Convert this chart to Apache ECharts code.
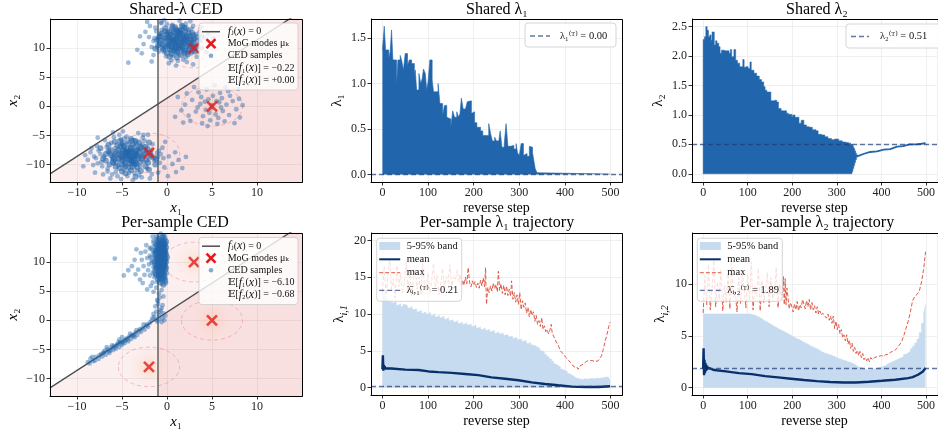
<!DOCTYPE html>
<html>
<head>
<meta charset="utf-8">
<script src="https://cdn.jsdelivr.net/npm/echarts@6/dist/echarts.min.js"></script>
<style>
  html, body { margin: 0; padding: 0; background: #fff; }
  #chart { width: 938px; height: 431px; }
</style>
</head>
<body>
<div id="chart"></div>
<script>
const FONT = "'Liberation Serif', 'DejaVu Serif', serif";

// ---------- 2-D panels (Shared-λ CED / Per-sample CED) ----------
const modes = [[3, 10], [5, 0], [-2, -8]];
const modeRadius = 3.4;
const boundaryX = -1;        // f_1(x) = 0  (vertical)
const boundarySlope = 1.0;   // f_2(x) = 0  : x2 = slope * x1 + b
const boundaryB = 1.4;

const sharedLow = [
  [-4.3,-8.2],[-3.8,-7.6],[-4.9,-8.8],[-3.5,-9.1],[-5.2,-7.9],[-4.1,-7.0],[-2.9,-8.4],[-5.6,-8.6],[-4.6,-9.6],[-3.2,-7.3],
  [-2.6,-9.5],[-5.8,-7.2],[-4.0,-10.0],[-3.4,-6.4],[-6.1,-9.2],[-2.3,-7.8],[-5.0,-6.6],[-4.7,-7.5],[-3.7,-8.7],[-3.0,-10.3],
  [-6.4,-8.1],[-2.0,-8.9],[-5.4,-10.1],[-4.4,-6.1],[-3.9,-9.5],[-6.7,-7.0],[-1.7,-7.5],[-5.9,-9.9],[-2.7,-6.6],[-4.8,-10.8],
  [-3.3,-11.0],[-7.0,-8.6],[-1.4,-9.3],[-6.2,-6.3],[-5.1,-5.7],[-3.6,-5.8],[-2.2,-10.7],[-7.3,-9.6],[-1.1,-8.0],[-6.6,-10.7],
  [-4.2,-11.4],[-2.5,-5.9],[-7.6,-7.6],[-0.8,-9.7],[-5.7,-11.3],[-3.1,-11.8],[-7.9,-8.9],[-1.6,-6.5],[-6.9,-5.8],[-0.5,-7.1],
  [-4.5,-5.2],[-5.5,-12.0],[-8.2,-10.1],[-2.8,-12.2],[-0.3,-10.5],[-8.5,-7.9],[-1.0,-11.4],[-7.1,-11.7],[-5.3,-4.9],[-3.2,-4.6],
  [0.2,-8.6],[-8.8,-9.2],[-1.9,-12.4],[0.6,-9.9],[-6.3,-12.4],[-3.8,-12.7],[0.9,-7.9],[-9.1,-8.4],[-7.7,-5.4],[1.3,-9.2],
  [1.7,-10.6],[-0.2,-6.1],[-4.9,-4.3],[2.1,-8.7],[-8.0,-11.4],[0.1,-12.0],[1.0,-11.3],[-6.0,-4.5],[-2.1,-4.9],[-9.3,-10.3],
  [-7.4,-8.2],[-3.6,-11.5],[-1.0,-8.7],[-5.9,-5.3],[-7.2,-10.3],[-4.4,-12.0],[-0.7,-8.2],[-2.6,-4.9],[-7.8,-6.8],[-6.1,-11.7],
  [-0.9,-7.6],[-6.6,-11.2],[-1.7,-11.7],[-7.7,-9.8],[-4.7,-5.5],[-0.4,-8.9],[-8.1,-8.6],[-2.7,-5.4],[-5.1,-12.5],[-8.4,-7.2]
];
const sharedLowCore = [
  [-4.0,-8.6],[-3.6,-8.1],[-4.6,-8.0],[-5.0,-9.3],[-3.3,-8.6],[-4.4,-7.4],[-5.3,-8.4],[-3.9,-9.0],[-4.8,-7.1],[-3.1,-7.9],
  [-5.6,-9.5],[-4.2,-9.2],[-3.6,-7.0],[-2.8,-9.0],[-5.4,-7.5],[-4.5,-8.5],[-3.4,-9.8],[-4.1,-7.7],[-5.8,-8.2],[-2.5,-8.2],
  [-4.7,-9.9],[-3.0,-6.9],[-5.2,-6.9],[-4.3,-10.5],[-2.4,-7.0],[-6.0,-8.7],[-3.8,-10.4],[-4.9,-6.3],[-2.1,-9.7],[-6.3,-7.5],
  [-3.5,-6.0],[-5.7,-10.4],[-1.8,-8.4],[-4.0,-5.6],[-6.8,-9.3],[-2.9,-11.1],[-1.3,-10.0],[-5.0,-11.2],[-6.5,-6.6],[-2.0,-6.2],
  [-4.2,-8.4],[-3.9,-7.9],[-4.7,-8.3],[-3.4,-8.3],[-4.4,-9.0],[-5.1,-8.6],[-3.7,-9.4],[-4.9,-7.6],[-3.2,-8.9],[-4.0,-7.3],
  [-5.4,-9.0],[-2.7,-8.6],[-4.5,-7.8],[-3.5,-7.7],[-5.7,-7.8],[-4.1,-9.8],[-3.0,-9.6],[-5.0,-10.0],[-2.6,-7.6],[-4.8,-6.8],
  [-3.8,-6.6],[-5.9,-9.1],[-2.3,-9.2],[-6.2,-8.4],[-3.3,-10.5],[-4.6,-10.3],[-2.9,-7.1],[-5.5,-6.7],[-4.3,-6.5],[-6.5,-7.7],
  [-1.9,-8.0],[-3.6,-10.0],[-5.3,-10.6],[-2.2,-7.3],[-6.0,-9.6],[-4.0,-11.0],[-1.5,-8.8],[-6.8,-8.2],[-3.1,-6.2],[-5.2,-5.9],
  [-4.6,-11.5],[-2.4,-10.3],[-6.4,-10.0],[-1.2,-9.1],[-7.1,-9.0],[-3.9,-5.9],[-2.0,-10.9],[-5.8,-6.1],[-7.4,-7.2],[-3.5,-12.1],
  [-4.4,-8.0],[-3.6,-8.5],[-4.9,-9.1],[-3.9,-8.8],[-4.2,-7.7],[-5.0,-8.1],[-3.3,-7.6],[-4.6,-8.9],[-4.0,-9.4],[-3.6,-9.7]
];
const sharedUp = [
  [2.7,13.3],[-1.4,11.7],[3.5,11.4],[0.6,14.0],[-0.9,9.4],[2.1,14.2],[3.6,12.8],[-0.1,8.6],[1.8,8.0],[3.3,8.5],
  [-1.7,10.2],[0.5,7.9],[2.6,14.6],[-0.6,14.3],[3.9,10.0],[-2.0,11.9],[1.4,14.7],[-1.5,8.8],[0.2,7.4],[-1.2,12.9],
  [-2.4,12.8],[4.1,11.8],[2.2,7.6],[-2.6,10.7],[3.8,13.6],[-0.3,14.8],[-1.9,13.8],[4.4,9.3],[-2.8,9.1],[1.0,7.0],
  [-4.3,7.5],[-3.3,9.7],[-1.7,7.7],[-0.7,14.4],[-3.0,12.0],[4.6,12.5],[4.8,10.6],[5.2,11.7],[2.9,7.2],[-2.2,14.5],
  [1.6,14.0],[-0.6,13.1],[2.1,8.4],[3.7,11.2],[-1.5,11.2],[0.0,14.1],[2.9,13.8],[1.2,7.8],[-1.3,13.5],[3.9,12.1],
  [-1.1,10.1],[3.4,10.6],[0.7,8.7],[2.7,9.1],[-0.8,12.4],[0.4,13.3],[3.2,12.4],[1.3,8.9],[2.4,13.1],[-0.3,9.3]
];
const sharedUpCore = [
  [1.0,11.0],[0.4,11.6],[1.6,10.4],[0.1,10.3],[2.0,11.8],[1.3,12.3],[-0.4,11.2],[2.5,10.7],[0.8,9.6],[1.9,9.2],
  [-0.7,12.1],[2.9,12.2],[0.3,12.8],[1.5,13.1],[-1.0,10.5],[3.2,10.2],[0.0,9.2],[2.3,8.9],[-0.2,13.4],[1.1,8.4],
  [1.7,11.5],[0.7,10.8],[1.4,9.9],[0.2,11.9],[2.4,12.6],[-0.5,10.0],[1.2,12.9],[2.8,9.6],[0.9,13.6],[3.0,11.0],
  [0.9,11.4],[1.5,10.9],[0.2,10.8],[1.8,12.0],[0.6,10.1],[2.2,10.3],[1.2,11.9],[-0.3,11.6],[2.6,11.5],[0.4,12.3],
  [1.7,9.7],[-0.8,10.8],[2.4,9.8],[0.0,12.4],[1.3,10.2],[2.0,12.7],[-0.4,9.7],[3.0,11.7],[0.8,12.6],[1.6,8.8],
  [-1.1,11.4],[2.8,10.5],[0.5,9.0],[1.0,13.2],[-0.2,12.9],[3.4,11.9],[0.3,9.8],[2.1,13.4],[-0.6,12.5],[1.9,10.7],
  [0.7,11.2],[1.1,9.3],[2.5,12.1],[-0.9,11.9],[3.1,9.4],[1.4,12.5],[0.1,10.6],[2.2,11.2],[-1.3,9.9],[1.7,13.8],
  [1.2,11.1],[0.6,11.4],[1.5,11.7],[0.9,10.6],[1.9,10.9],[0.3,11.1],[1.1,12.1],[2.3,11.6],[0.5,10.4],[1.7,10.1],
  [-0.1,11.8],[2.6,10.9],[1.0,9.9],[0.1,12.6],[2.0,9.6],[1.4,13.0],[-0.5,10.6],[2.9,11.4],[0.8,12.9],[1.8,12.4],
  [1.0,11.6],[1.6,11.2],[0.7,12.0],[2.2,12.0],[0.5,9.6],[1.3,10.5],[2.0,11.3],[0.2,11.5],[1.5,12.6],[0.9,10.2],
  [2.5,10.3],[1.9,13.5],[-0.2,10.2],[3.0,10.0],[0.6,13.7],[-0.9,11.5],[2.3,9.3],[1.1,9.4],[2.8,12.6],[0.3,8.5]
];
const sharedRight = [
  [5.0,0.2],[4.3,-0.6],[5.8,0.7],[4.6,1.2],[6.2,-0.8],[3.7,0.4],[5.4,-1.4],[4.0,-1.7],[6.6,0.3],[5.1,1.8],
  [3.2,-0.9],[6.9,-1.5],[4.8,-2.4],[5.9,2.3],[2.8,1.1],[7.3,0.9],[3.5,2.4],[6.4,-2.6],[2.4,-1.6],[7.7,-0.5],
  [4.4,2.9],[5.6,-3.0],[2.0,0.3],[8.1,-1.9],[3.9,-2.9],[6.8,2.6],[1.6,-0.7],[8.4,0.2],[3.0,3.3],[5.3,3.6],
  [1.2,1.6],[7.5,-2.9],[2.6,-2.5],[4.9,-0.3],[5.5,0.9],[4.2,0.8],[6.0,-0.2],[3.4,-0.2],[6.1,1.4],[4.7,-1.1],
  [2.2,2.2],[7.0,1.8],[5.7,-2.0],[3.8,1.6],[0.9,-1.8],[6.5,3.3],[4.5,-3.4],[8.0,1.3],[1.8,-2.8],[7.9,3.0]
];
const perColumn = [
  [-1.5,11.6],[-1.4,12.7],[-1.7,10.3],[-1.6,8.2],[-1.9,11.1],[-2.0,9.6],[-1.8,12.5],[-1.4,7.4],[-2.2,10.7],[-1.5,13.3],
  [-2.4,11.8],[-0.7,14.9],[-2.1,8.6],[-1.6,14.4],[-1.2,13.9],[-1.0,14.2],[-0.4,14.6],[-0.5,6.3],[-1.1,6.6],[-0.8,6.9],
  [-2.6,9.3],[-2.3,12.9],[-1.9,7.7],[-2.8,10.4],[-1.6,6.5],[-2.5,7.8],[-1.2,5.6],[-0.6,5.2],[-1.8,5.9],[-0.9,4.6],
  [-5.8,10.6],[-4.8,7.7],[-3.9,9.3],[-3.5,7.9],[-3.0,7.0],[-3.2,8.7],[-3.6,10.4],[-2.9,11.6],[-4.3,8.6],[-2.7,6.4],
  [-3.4,12.2],[-2.2,5.3],[-1.5,4.9],[-0.4,4.1],[-1.1,3.5],[-1.4,11.0],[-1.5,9.1],[-1.6,12.0],[-1.3,13.0],[-1.7,9.9],
  [-1.4,8.6],[-1.8,10.8],[-1.5,13.7],[-1.2,14.4],[-1.9,12.3],[-0.3,14.6],[-0.2,14.1],[-0.1,6.4],[-0.2,7.4],[0.0,8.1]
];
const perColumnCore = [
  [-0.8,10.0],[-0.5,11.2],[-1.0,12.1],[-0.3,9.2],[-0.7,8.4],[-1.2,10.8],[-0.4,12.9],[-0.9,13.4],[-0.6,7.6],[-1.3,9.5],
  [-0.2,10.6],[-0.5,13.8],[-1.1,8.9],[-0.3,11.9],[-0.6,9.8],[-0.4,8.0],[-0.2,13.1],[-0.7,12.4],[-0.3,7.2],[-0.9,11.6],
  [-0.6,10.5],[-0.2,8.7],[-0.8,9.2],[-0.3,12.4],[-1.3,11.3],[-0.5,9.5],[-0.9,7.9],[-0.1,10.0],[-1.0,10.4],[-0.6,11.7],
  [-1.2,9.0],[-0.4,10.9],[-0.8,12.8],[-1.4,10.0],[-0.3,9.6],[-0.9,8.0],[-0.6,13.5],[-1.1,11.9],[-0.5,8.9],[-0.7,11.0],
  [-1.3,8.1],[-0.2,12.0],[-0.8,10.7],[-1.0,9.8],[-0.4,11.5],[-0.6,12.2],[-1.1,13.0],[-0.3,10.3],[-0.9,9.4],[-0.5,10.1],
  [-0.7,10.2],[-0.4,10.5],[-0.9,10.9],[-0.6,11.4],[-1.0,11.0],[-0.3,11.1],[-0.8,11.8],[-0.5,12.0],[-1.1,12.4],[-0.4,12.6],
  [-0.7,13.0],[-0.9,12.2],[-0.2,11.6],[-0.6,13.2],[-1.0,13.6],[-0.4,13.4],[-0.8,14.0],[-0.5,14.3],[-0.3,13.8],[-1.2,11.7],
  [-0.6,9.2],[-0.9,9.6],[-0.3,9.9],[-0.7,9.0],[-1.1,9.9],[-0.5,8.6],[-0.8,8.7],[-0.2,9.4],[-1.0,8.4],[-0.4,8.3],
  [-0.6,7.9],[-0.9,7.5],[-0.3,7.8],[-0.7,7.2],[-1.2,7.8],[-0.5,7.0],[-0.8,6.5],[-0.2,6.8],[-1.0,7.1],[-0.4,6.1],
  [-0.7,10.8],[-0.5,11.6],[-0.8,10.4],[-0.4,9.7],[-0.6,12.6],[-0.9,11.4],[-0.3,12.9],[-1.2,10.4],[-0.5,9.0],[-0.8,13.3],
  [-1.3,12.0],[-0.2,10.3],[-0.7,11.6],[-1.0,10.6],[-0.4,12.2],[-0.6,10.0],[-0.9,13.0],[-0.3,11.4],[-1.1,9.3],[-0.5,13.0],
  [-0.1,12.5],[-0.1,9.0],[-0.1,11.3],[0.0,10.8],[-0.1,13.5],[-0.6,10.7],[-0.8,12.0],[-0.5,11.0],[-0.7,12.3],[-0.4,10.0]
];
const perMiddle = [
  [-0.8,3.9],[-1.0,2.8],[-0.6,2.1],[-1.2,1.5],[-0.9,0.9],[-0.5,0.4],[-1.4,0.6],[-1.7,0.0],[-1.1,-0.2],[-0.4,1.2],
  [-0.7,1.7],[-1.3,2.4],[-0.3,0.0],[-1.9,-0.4],[-1.5,1.1],[-0.9,0.2],[-0.6,-0.3],[-2.2,-0.7],[-1.0,3.3],[-0.5,2.6],
  [-1.6,0.4],[-0.8,1.4],[-0.2,0.8],[-1.2,0.1]
];
const perChain = [
  [-8.8,-7.2],[-8.5,-6.6],[-8.2,-7.0],[-7.9,-6.3],[-7.6,-6.6],[-7.3,-5.8],[-7.0,-5.5],[-7.2,-6.2],[-6.8,-5.9],[-6.6,-5.0],
  [-6.4,-5.6],[-6.2,-4.7],[-6.0,-5.1],[-5.9,-4.4],[-5.7,-4.9],[-5.5,-4.1],[-5.3,-4.6],[-5.2,-3.7],[-5.0,-4.2],[-4.8,-3.5],
  [-4.7,-3.9],[-4.5,-3.1],[-4.3,-3.6],[-4.2,-2.8],[-4.0,-3.2],[-3.8,-2.5],[-3.6,-2.9],[-3.5,-2.1],[-3.3,-2.5],[-3.1,-1.8],
  [-2.9,-2.0],[-2.7,-1.3],[-2.5,-1.6],[-2.3,-0.9],[-2.1,-1.1],[-6.5,-5.3],[-5.8,-4.6],[-5.1,-3.9],[-4.4,-3.3],[-3.7,-2.7],
  [-7.5,-6.0],[-6.9,-5.2],[-6.1,-4.3],[-5.4,-3.8],[-4.6,-3.4],[-3.9,-2.6],[-8.0,-6.9],[-8.6,-7.4],[-5.6,-4.3],[-4.9,-3.8],
  [-6.3,-5.2],[-7.1,-5.6],[-5.0,-2.9],[-4.1,-2.3],[-6.7,-4.6],[-3.0,-1.5],[-8.3,-6.3],[-5.3,-3.3],[-2.6,-0.7],[-3.4,-1.7]
];

// ---------- Shared λ1 ----------
const sl1Steps = [0,4,7,11,14,17,20,23,27,31,34,39,42,46,50,55,59,64,70,72,75,80,84,87,90,94,97,100,104,109,
  112,117,122,126,132,136,141,145,150,154,158,163,167,170,173,177,182,186,190,195,199,202,207,211,215,220,224,228,233,237,
  241,246,250,255,258,262,267,271,275,280,284,288,293,296,300,304,309,313,317,322,326,329,332,335,339,343,499];
const sl1Vals = [1.37,1.63,1.37,1.37,1.28,1.35,1.59,1.26,1.26,0.98,1.26,1.31,1.26,1.15,1.33,1.20,1.26,1.22,1.09,1.15,
  0.93,1.11,1.00,1.05,1.16,1.11,0.93,1.02,1.26,1.04,0.91,0.91,1.00,0.78,0.65,0.76,0.63,0.61,0.52,0.70,
  0.63,0.69,0.63,0.67,0.84,0.72,0.72,0.80,0.81,0.67,0.69,0.57,0.52,0.52,0.48,0.43,0.43,0.43,0.56,0.45,
  0.37,0.41,0.37,0.39,0.48,0.30,0.34,0.56,0.31,0.31,0.32,0.28,0.34,0.24,0.21,0.34,0.21,0.23,0.20,0.31,
  0.30,0.24,0.15,0.06,0.02,0.005,0.005];
const sl1Final = 0.00;

// ---------- Shared λ2 ----------
const sl2Steps = [0,3,6,9,12,15,18,20,25,28,31,35,38,41,48,55,58,61,64,69,73,77,82,85,89,92,96,101,105,108,
  114,120,126,131,136,139,143,147,152,155,161,165,169,175,181,187,191,196,199,201,206,210,215,220,226,232,238,245,253,258,
  266,273,280,288,295,304,312,320,326,331,334,336,338,340,342,344,347];
const sl2Hi = [2.28,2.33,2.50,2.44,2.33,2.36,2.27,2.41,2.19,2.26,2.22,2.16,2.05,2.10,2.09,2.09,2.05,2.11,1.99,2.11,
  1.93,1.88,1.82,1.82,1.94,1.81,1.82,1.79,1.90,1.76,1.71,1.66,1.60,1.56,1.48,1.42,1.39,1.39,1.24,1.24,
  1.25,1.22,1.11,1.07,1.07,1.03,1.01,1.01,0.97,1.00,0.96,0.96,0.86,0.91,0.83,0.80,0.79,0.75,0.73,0.67,
  0.66,0.63,0.60,0.58,0.59,0.56,0.54,0.53,0.52,0.50,0.49,0.46,0.43,0.39,0.35,0.32,0.32];
const sl2Lo = [0,0,0,0,0,0,0,0,0,0,0,0,0,0,0,0,0,0,0,0,0,0,0,0,0,0,0,0,0,0,
  0,0,0,0,0,0,0,0,0,0,0,0,0,0,0,0,0,0,0,0,0,0,0,0,0,0,0,0,0,0,
  0,0,0,0,0,0,0,0,0,0,0.04,0.09,0.14,0.19,0.24,0.29,0.31];
const sl2TailSteps = [344,347,361,375,390,405,420,435,449,463,478,490,499];
const sl2TailVals = [0.29,0.32,0.34,0.37,0.38,0.41,0.42,0.46,0.47,0.50,0.50,0.51,0.52];
const sl2Final = 0.51;

// ---------- Per-sample trajectories ----------
const bandSteps = [0,5,10,15,20,25,30,35,40,45,50,55,60,65,70,75,80,85,90,95,100,105,110,115,120,125,130,135,140,145,
  150,155,160,165,170,175,180,185,190,195,200,205,210,215,220,225,230,235,240,245,250,255,260,265,270,275,280,285,290,295,
  300,305,310,315,320,325,330,335,340,345,350,355,360,365,370,375,380,385,390,395,400,405,410,415,420,425,430,435,440,445,
  450,455,460,465,470,475,480,485,490,495,499];
const ps1Band = [13.3,12.4,11.9,11.6,11.5,11.7,11.2,11.4,11.0,11.3,11.1,10.8,11.0,10.6,10.7,10.3,10.5,10.1,10.3,10.0,
  10.2,9.8,10.0,9.6,9.8,9.5,9.7,9.3,9.5,9.1,9.2,8.9,9.1,8.7,8.9,8.6,8.8,8.5,8.6,8.3,
  8.5,8.1,8.2,7.9,8.1,7.8,7.9,7.6,7.8,7.4,7.6,7.3,7.4,7.1,7.2,6.9,7.0,6.7,6.8,6.5,
  6.6,6.3,6.4,6.0,6.1,5.8,5.7,5.5,5.3,5.0,4.8,4.5,4.2,3.9,3.6,3.2,3.0,2.8,2.5,2.3,
  2.2,1.9,1.7,1.5,1.3,1.2,1.15,1.1,1.2,1.15,1.2,1.25,1.2,1.3,1.25,1.3,1.35,1.45,1.4,1.3,0.9];
const ps2Band = [7.1,7.1,7.1,7.1,7.1,7.1,7.1,7.1,7.1,7.1,7.1,7.1,7.1,7.1,7.1,7.1,7.1,7.1,7.1,7.1,7.1,
  7.05,7.0,6.9,6.8,6.7,6.55,6.4,6.3,6.15,6.05,5.9,5.8,5.65,5.55,5.45,5.35,5.2,5.1,4.95,4.85,
  4.75,4.65,4.55,4.4,4.3,4.2,4.05,3.95,3.85,3.75,3.65,3.5,3.4,3.3,3.25,3.15,3.1,3.0,2.9,2.8,
  2.75,2.65,2.6,2.5,2.45,2.35,2.25,2.1,2.0,1.95,1.85,1.75,1.7,1.7,1.75,1.8,1.85,1.95,2.0,2.05,
  2.15,2.3,2.4,2.5,2.6,2.7,2.8,2.9,3.0,3.2,3.35,3.5,3.75,4.0,4.3,4.7,5.3,6.2,7.2,8.0];

const ps1MeanSteps = [0,1,2,3,4,5,6,8,12,20,50,79,101,123,152,181,210,239,269,298,327,356,385,415,444,473,499];
const ps1Mean = [2.5,4.4,2.3,3.1,2.5,2.9,2.6,2.8,2.6,2.6,2.45,2.4,2.2,2.1,2.0,1.86,1.7,1.4,1.2,1.0,0.72,0.5,0.32,0.14,0.09,0.09,0.18];
const ps2MeanSteps = [0,1,2,3,4,5,6,7,8,9,10,12,14,16,22,30,51,80,109,139,168,197,226,255,285,314,343,372,401,431,460,470,482,488,493,497,499];
const ps2Mean = [1.8,3.8,1.2,2.7,1.4,2.4,1.6,2.2,1.7,2.1,1.9,2.0,1.8,1.85,1.73,1.68,1.57,1.41,1.31,1.12,1.0,0.87,0.74,0.64,0.55,0.51,0.51,0.58,0.67,0.77,0.93,1.02,1.25,1.42,1.57,1.75,1.9];

const ps1MaxSteps = [0,4,8,12,16,20,24,28,32,36,40,44,48,52,56,60,64,68,72,76,80,84,88,92,96,100,104,108,112,116,
  120,124,128,132,136,140,144,148,152,156,160,164,168,
  170,173,176,179,182,185,188,191,194,197,200,203,206,209,212,215,218,221,224,226,228,231,234,237,240,243,246,249,252,254,
  257,260,263,266,269,272,275,278,281,283,286,289,292,295,298,301,304,307,310,313,316,319,322,325,328,331,334,337,340,343,
  346,349,352,355,358,361,364,367,370,372,375,378,381,384,387,390,393,396,399,402,405,408,411,414,417,420,423,426,429,432,
  436,440,444,448,452,456,460,464,468,472,476,480,484,488,492,496,499];
const ps1Max = [13.0,16.4,12.6,15.2,17.3,13.4,14.8,12.2,16.6,13.7,15.5,12.8,14.2,17.0,13.1,15.8,12.5,14.6,16.1,13.3,
  15.0,12.7,16.8,14.0,13.2,15.6,12.9,14.5,16.9,13.6,15.3,12.6,14.1,16.2,13.5,15.1,14.3,16.7,13.8,15.0,14.6,16.0,14.4,
  15.4,13.8,14.6,13.9,15.0,14.1,16.3,14.3,13.7,14.5,13.9,14.4,13.6,14.2,13.5,14.6,13.8,14.9,13.7,16.3,11.3,13.6,12.9,13.8,13.1,
  14.2,13.4,14.0,13.0,15.8,13.2,14.1,12.8,13.9,12.6,13.8,12.5,13.4,12.4,14.5,12.0,12.9,11.6,12.6,11.3,12.9,10.6,11.8,10.9,
  11.5,10.1,10.9,9.6,10.6,9.8,10.3,9.0,9.8,8.6,9.1,8.3,9.5,7.9,8.4,7.6,7.9,7.3,7.8,8.6,7.4,7.0,6.8,6.2,5.9,5.5,
  5.0,4.8,4.6,4.4,4.1,3.9,3.7,3.5,3.3,3.1,2.8,2.6,2.8,2.5,2.9,2.7,3.2,3.3,3.6,3.4,3.7,3.5,3.6,3.4,3.6,3.7,4.3,5.2,6.3,7.2,8.3,8.9];
const ps2MaxSteps = [0,4,8,12,16,20,24,28,32,36,40,44,48,52,56,60,64,68,72,76,80,84,88,92,96,100,104,108,112,116,
  120,124,128,132,136,140,144,148,152,156,160,164,168,
  172,175,178,180,182,184,186,188,190,193,196,199,202,205,208,211,214,217,220,223,226,229,232,235,238,241,244,247,250,253,
  256,259,262,265,268,271,274,277,280,283,286,289,292,295,298,301,304,307,310,313,316,319,322,325,328,331,334,337,340,343,
  346,349,352,355,358,361,364,367,370,373,376,380,384,388,392,396,400,405,410,415,420,425,430,435,440,445,450,455,460,465,
  470,475,480,485,490,495,499];
const ps2Max = [7.2,10.8,8.0,11.9,7.5,9.6,12.3,7.8,10.2,8.5,11.4,7.4,9.9,8.2,11.0,7.6,12.0,8.7,9.3,7.3,
  10.6,8.1,11.2,9.5,7.7,10.9,8.4,12.1,7.5,9.8,8.8,11.5,7.4,10.3,8.2,9.4,11.1,7.8,10.6,8.6,9.0,11.6,7.7,
  10.0,8.5,9.4,10.7,8.0,10.5,8.0,9.6,8.9,7.6,8.2,7.8,7.3,8.1,7.5,8.3,7.4,8.0,7.7,8.5,8.6,7.6,8.4,7.8,8.5,7.5,8.2,7.5,7.9,7.2,
  7.8,7.1,7.4,7.0,7.2,7.0,7.1,6.7,7.1,6.5,6.9,6.2,6.9,5.7,6.4,5.6,6.1,5.2,5.6,4.8,5.1,4.5,5.1,4.2,4.6,3.8,4.3,3.5,3.9,3.3,
  3.6,3.1,3.5,2.9,3.3,2.7,2.9,2.6,2.9,2.5,2.9,2.7,2.9,2.8,3.0,2.9,3.1,3.0,3.2,3.2,3.4,3.5,3.6,3.8,4.1,4.4,5.0,5.7,6.4,7.3,
  8.4,8.8,9.0,9.3,10.2,11.5,13.1];
const ps1Final = 0.21;
const ps2Final = 1.89;

// ---------- colours ----------
const BLUE = '#2166ac';
const SAMPLE = 'rgba(33,102,172,0.55)';
const SAMPLE_CORE = 'rgba(33,102,172,0.7)';
const PINK = 'rgba(226,74,74,0.13)';
const BOUND = '#4d4d4d';
const MODE = '#e41a1c';
const BAND = '#c6dbef';
const MEAN = '#08306b';
const MAX = '#e05a47';
const REF = 'rgba(30,60,120,0.7)';

// ---------- layout ----------
const GRIDS = [
  { left: 50,  top: 19,  width: 252, height: 163 },
  { left: 371, top: 19,  width: 251, height: 163 },
  { left: 692, top: 19,  width: 251, height: 163 },
  { left: 50,  top: 233, width: 252, height: 163 },
  { left: 371, top: 233, width: 251, height: 162 },
  { left: 692, top: 233, width: 251, height: 162 }
];
const X_RANGE = [-13, 15];
const Y_RANGE = [-13, 15];

const minus = v => (v < 0 ? '\u2212' + Math.abs(v) : String(v));
const RICH = {
  i: { fontStyle: 'italic', fontFamily: FONT },
};
const NAME_RICH = {
  i: { fontStyle: 'italic', fontFamily: FONT, fontSize: 15 },
  l: { fontFamily: FONT, fontSize: 15, lineHeight: 20, verticalAlign: 'middle' },
  s: { fontFamily: FONT, fontSize: 10, fontStyle: 'italic', lineHeight: 20, verticalAlign: 'bottom' }
};

function xAxisFor(gi, min, max, name, gap, fmt) {
  return {
    type: 'value', gridIndex: gi, min, max, splitNumber: 5,
    name, nameLocation: 'middle', nameGap: gap,
    nameTextStyle: { fontFamily: FONT, fontSize: 14, color: '#000', rich: NAME_RICH },
    axisLine: { show: true, onZero: false, lineStyle: { color: '#000', width: 1 } },
    axisTick: { show: true, length: 3.5, lineStyle: { color: '#000', width: 0.8 } },
    axisLabel: { fontFamily: FONT, fontSize: 12, color: '#222', margin: 5, showMinLabel: false, showMaxLabel: false, formatter: fmt },
    splitLine: { show: true, lineStyle: { color: '#ebebeb', width: 0.8 } }
  };
}
function yAxisFor(gi, min, max, split, name, gap, fmt) {
  return {
    type: 'value', gridIndex: gi, min, max, splitNumber: split,
    name, nameLocation: 'middle', nameGap: gap, nameRotate: 90,
    nameTextStyle: { fontFamily: FONT, fontSize: 15, color: '#000', rich: NAME_RICH },
    axisLine: { show: true, onZero: false, lineStyle: { color: '#000', width: 1 } },
    axisTick: { show: true, length: 3.5, lineStyle: { color: '#000', width: 0.8 } },
    axisLabel: { fontFamily: FONT, fontSize: 12, color: '#222', margin: 5, showMinLabel: false, showMaxLabel: false, formatter: fmt },
    splitLine: { show: true, lineStyle: { color: '#ebebeb', width: 0.8 } }
  };
}

function pairs(xs, ys) { return xs.map((x, i) => [x, ys[i]]); }

// filled step area from 0 (line series, step 'end')
function stepArea(gi, steps, vals, color, z) {
  return {
    type: 'line', xAxisIndex: gi, yAxisIndex: gi, z, silent: true, symbol: 'none', step: 'end',
    data: pairs(steps, vals),
    lineStyle: { color, width: 0.6 },
    areaStyle: { color, opacity: 1, origin: 'auto' }
  };
}
// filled step band between lo and hi, drawn as one polygon
function stepBand(gi, steps, lo, hi, color, z) {
  return {
    type: 'custom', xAxisIndex: gi, yAxisIndex: gi, z, silent: true, clip: true,
    data: [[steps[0], 0]],
    renderItem(params, api) {
      const top = [], bottom = [];
      for (let i = 0; i < steps.length - 1; i++) {
        top.push(api.coord([steps[i], hi[i]]), api.coord([steps[i + 1], hi[i]]));
        bottom.push(api.coord([steps[i], lo[i]]), api.coord([steps[i + 1], lo[i]]));
      }
      return { type: 'polygon', shape: { points: top.concat(bottom.reverse()) }, style: { fill: color, stroke: color, lineWidth: 0.5 } };
    }
  };
}

function cedSeries(gi, clouds, cores) {
  const yAt = x => boundarySlope * x + boundaryB;
  const out = [
    // f_1 > 0 region
    { type: 'line', xAxisIndex: gi, yAxisIndex: gi, silent: true, z: 1, symbol: 'none',
      data: [[boundaryX, Y_RANGE[1]], [X_RANGE[1], Y_RANGE[1]]],
      lineStyle: { width: 0 }, areaStyle: { color: PINK, origin: 'start' } },
    // f_2 > 0 region and its boundary
    { type: 'line', xAxisIndex: gi, yAxisIndex: gi, silent: true, z: 3, symbol: 'none',
      data: [[X_RANGE[0], yAt(X_RANGE[0])], [X_RANGE[1], yAt(X_RANGE[1])]],
      lineStyle: { color: BOUND, width: 1.3 }, areaStyle: { color: PINK, origin: 'start' } },
    { type: 'line', xAxisIndex: gi, yAxisIndex: gi, silent: true, z: 3, symbol: 'none',
      data: [[boundaryX, Y_RANGE[0]], [boundaryX, Y_RANGE[1]]],
      lineStyle: { color: BOUND, width: 1.3 } },
    // Gaussian rings
    { type: 'custom', xAxisIndex: gi, yAxisIndex: gi, silent: true, z: 2,
      data: modes.map(m => [m[0], m[1], modeRadius]),
      renderItem(params, api) {
        const c = api.coord([api.value(0), api.value(1)]);
        const s = api.size([api.value(2), api.value(2)]);
        return {
          type: 'path',
          shape: { pathData: 'M0,50 A50,50 0 1,0 100,50 A50,50 0 1,0 0,50 Z', x: c[0] - s[0], y: c[1] - s[1], width: 2 * s[0], height: 2 * s[1], layout: 'cover' },
          style: {
            fill: { type: 'radial', x: 0.5, y: 0.5, r: 0.5, colorStops: [
              { offset: 0, color: 'rgba(252,205,160,0.4)' }, { offset: 0.6, color: 'rgba(252,205,160,0.1)' }, { offset: 1, color: 'rgba(252,205,160,0)' }] },
            stroke: 'rgba(235,110,110,0.45)', lineWidth: 0.9, lineDash: [4, 3]
          }
        };
      } }
  ];
  clouds.forEach(c => out.push({
    type: 'scatter', xAxisIndex: gi, yAxisIndex: gi, silent: true, z: 4, data: c,
    symbolSize: 4.8, itemStyle: { color: SAMPLE, borderWidth: 0 }
  }));
  cores.forEach(c => out.push({
    type: 'scatter', xAxisIndex: gi, yAxisIndex: gi, silent: true, z: 4, data: c,
    symbolSize: 6, itemStyle: { color: SAMPLE_CORE, borderWidth: 0 }
  }));
  out.push({
    type: 'scatter', xAxisIndex: gi, yAxisIndex: gi, silent: true, z: 5, data: modes,
    symbol: 'path://M0,0 L10,10 M10,0 L0,10', symbolSize: 10,
    itemStyle: { color: 'rgba(0,0,0,0)', borderColor: MODE, borderWidth: 2.6 }
  });
  return out;
}

function refLine(value) {
  return { silent: true, symbol: 'none', label: { show: false },
    lineStyle: { color: REF, type: [5, 3], width: 1.3 }, data: [{ yAxis: value }] };
}

// ---------- legends / titles / frames ----------
function legend(box, rows) {
  const children = [{ type: 'rect', z: 100, shape: { x: 0, y: 0, width: box[2], height: box[3], r: 3 },
    style: { fill: 'rgba(255,255,255,0.8)', stroke: '#cccccc', lineWidth: 0.8 } }];
  rows.forEach(r => {
    const h0 = r.hx[0], h1 = r.hx[1], hc = (h0 + h1) / 2;
    if (r.kind === 'line') {
      children.push({ type: 'line', z: 101, shape: { x1: h0, y1: r.y, x2: h1, y2: r.y },
        style: { stroke: r.color, lineWidth: r.w, lineDash: r.dash || null } });
    } else if (r.kind === 'x') {
      children.push({ type: 'line', z: 101, shape: { x1: hc - 4.5, y1: r.y - 4.5, x2: hc + 4.5, y2: r.y + 4.5 }, style: { stroke: MODE, lineWidth: 2.6 } });
      children.push({ type: 'line', z: 101, shape: { x1: hc - 4.5, y1: r.y + 4.5, x2: hc + 4.5, y2: r.y - 4.5 }, style: { stroke: MODE, lineWidth: 2.6 } });
    } else if (r.kind === 'dot') {
      children.push({ type: 'circle', z: 101, shape: { cx: hc, cy: r.y, r: 2.3 }, style: { fill: SAMPLE } });
    } else if (r.kind === 'patch') {
      children.push({ type: 'rect', z: 101, shape: { x: h0, y: r.y - 4, width: h1 - h0, height: 8 }, style: { fill: BAND } });
    }
    children.push({ type: 'text', z: 101, x: r.tx, y: r.y,
      style: { text: r.text, fontFamily: FONT, fontSize: r.fs || 10.5, fill: '#111', verticalAlign: 'middle', textVerticalAlign: 'middle', rich: RICH } });
  });
  return { type: 'group', x: box[0], y: box[1], z: 100, children };
}

function cedLegend(x, y, e1, e2) {
  const hx = [3, 21];
  return legend([x, y, 99, 67], [
    { kind: 'line', color: BOUND, w: 1.5, hx, y: 8.7, tx: 28.7, fs: 10, text: '{i|f}\u2c7c({i|x}) = 0' },
    { kind: 'x', hx, y: 20.7, tx: 28.7, fs: 10, text: 'MoG modes \u03bc\u2096' },
    { kind: 'dot', hx, y: 32.7, tx: 28.7, fs: 10, text: 'CED samples' },
    { kind: 'none', hx, y: 45.3, tx: 28.7, fs: 10, text: '\ud835\udd3c[{i|f}\u2081({i|x})] = ' + e1 },
    { kind: 'none', hx, y: 57.3, tx: 28.7, fs: 10, text: '\ud835\udd3c[{i|f}\u2082({i|x})] = ' + e2 }
  ]);
}

function trajLegend(x, y, idx, finalVal) {
  const hx = [2.5, 23.5];
  return legend([x, y, 85, 63], [
    { kind: 'patch', hx, y: 7.7, tx: 30, text: '5-95% band' },
    { kind: 'line', color: MEAN, w: 2, hx, y: 21, tx: 30, text: 'mean' },
    { kind: 'line', color: MAX, w: 1, dash: [4, 2], hx, y: 34.4, tx: 30, text: 'max' },
    { kind: 'line', color: REF, w: 1.3, dash: [5, 3], hx, y: 52, tx: 30, text: '\u03bb\u0304\u1d62,' + idx + '\u207d\u1d40\u207e = ' + finalVal.toFixed(2) }
  ]);
}

function title(text, cx, cy) {
  return { type: 'text', z: 100, x: cx, y: cy,
    style: { text, fontFamily: FONT, fontSize: 16, fill: '#000', align: 'center', textAlign: 'center', verticalAlign: 'middle', textVerticalAlign: 'middle' } };
}

const frames = GRIDS.map(g => ({ type: 'rect', z: 90, silent: true,
  shape: { x: g.left + 0.5, y: g.top + 0.5, width: g.width, height: g.height },
  style: { fill: null, stroke: '#000', lineWidth: 1 } }));

const chart = echarts.init(document.getElementById('chart'), null, { renderer: 'canvas' });

chart.setOption({
  animation: false,
  backgroundColor: '#fff',
  grid: GRIDS.map(g => Object.assign({ containLabel: false }, g)),
  xAxis: [
    xAxisFor(0, X_RANGE[0], X_RANGE[1], '{i|x}\u2081', 19, minus),
    xAxisFor(1, -25, 525, 'reverse step', 19),
    xAxisFor(2, -25, 525, 'reverse step', 19),
    xAxisFor(3, X_RANGE[0], X_RANGE[1], '{i|x}\u2081', 19, minus),
    xAxisFor(4, -25, 525, 'reverse step', 19),
    xAxisFor(5, -25, 525, 'reverse step', 19)
  ],
  yAxis: [
    yAxisFor(0, Y_RANGE[0], Y_RANGE[1], 5, '{i|x}\u2082', 29, minus),
    yAxisFor(1, -0.082, 1.71, 4, '\u03bb\u2081', 26, v => v.toFixed(1)),
    yAxisFor(2, -0.14, 2.63, 5, '\u03bb\u2082', 26, v => v.toFixed(1)),
    yAxisFor(3, Y_RANGE[0], Y_RANGE[1], 5, '{i|x}\u2082', 29, minus),
    yAxisFor(4, -1, 21, 5, '{l|\u03bb}{s|i,1}', 22),
    yAxisFor(5, -0.7, 14.9, 3, '{l|\u03bb}{s|i,2}', 22)
  ],
  series: [
    ...cedSeries(0, [sharedLow, sharedUp, sharedRight], [sharedLowCore, sharedUpCore]),
    ...cedSeries(3, [perColumn, perMiddle, perChain], [perColumnCore]),

    Object.assign(stepArea(1, sl1Steps, sl1Vals, BLUE, 2), { markLine: refLine(sl1Final) }),

    stepBand(2, sl2Steps, sl2Lo, sl2Hi, BLUE, 2),
    { type: 'line', xAxisIndex: 2, yAxisIndex: 2, z: 3, silent: true, symbol: 'none',
      data: pairs(sl2TailSteps, sl2TailVals), lineStyle: { color: BLUE, width: 1.8 }, markLine: refLine(sl2Final) },

    stepArea(4, bandSteps, ps1Band, BAND, 1),
    { type: 'line', xAxisIndex: 4, yAxisIndex: 4, z: 3, silent: true, symbol: 'none',
      data: pairs(ps1MaxSteps, ps1Max), lineStyle: { color: MAX, width: 1, type: [4, 2] } },
    { type: 'line', xAxisIndex: 4, yAxisIndex: 4, z: 4, silent: true, symbol: 'none',
      data: pairs(ps1MeanSteps, ps1Mean), lineStyle: { color: MEAN, width: 2.4 }, markLine: refLine(ps1Final) },

    stepArea(5, bandSteps, ps2Band, BAND, 1),
    { type: 'line', xAxisIndex: 5, yAxisIndex: 5, z: 3, silent: true, symbol: 'none',
      data: pairs(ps2MaxSteps, ps2Max), lineStyle: { color: MAX, width: 1, type: [4, 2] } },
    { type: 'line', xAxisIndex: 5, yAxisIndex: 5, z: 4, silent: true, symbol: 'none',
      data: pairs(ps2MeanSteps, ps2Mean), lineStyle: { color: MEAN, width: 2.4 }, markLine: refLine(ps2Final) }
  ],
  graphic: [
    ...frames,
    title('Shared-\u03bb CED', 176, 10),
    title('Shared \u03bb\u2081', 497, 10),
    title('Shared \u03bb\u2082', 817, 10),
    title('Per-sample CED', 175, 223),
    title('Per-sample \u03bb\u2081 trajectory', 497, 223),
    title('Per-sample \u03bb\u2082 trajectory', 817, 223),
    cedLegend(199, 23, '\u22120.22', '+0.00'),
    cedLegend(199, 237.5, '\u22126.10', '\u22120.68'),
    legend([525, 23, 91, 24], [
      { kind: 'line', color: REF, w: 1.3, dash: [5, 3], hx: [5, 25], y: 13, tx: 35, text: '\u03bb\u2081\u207d\u1d40\u207e = ' + sl1Final.toFixed(2) }
    ]),
    legend([846, 24, 96, 24], [
      { kind: 'line', color: REF, w: 1.3, dash: [5, 3], hx: [5, 23], y: 12.5, tx: 34, text: '\u03bb\u2082\u207d\u1d40\u207e = ' + sl2Final.toFixed(2) }
    ]),
    trajLegend(376.7, 238.3, '\u2081', ps1Final),
    trajLegend(697.3, 238.3, '\u2082', ps2Final)
  ]
});
</script>
</body>
</html>
